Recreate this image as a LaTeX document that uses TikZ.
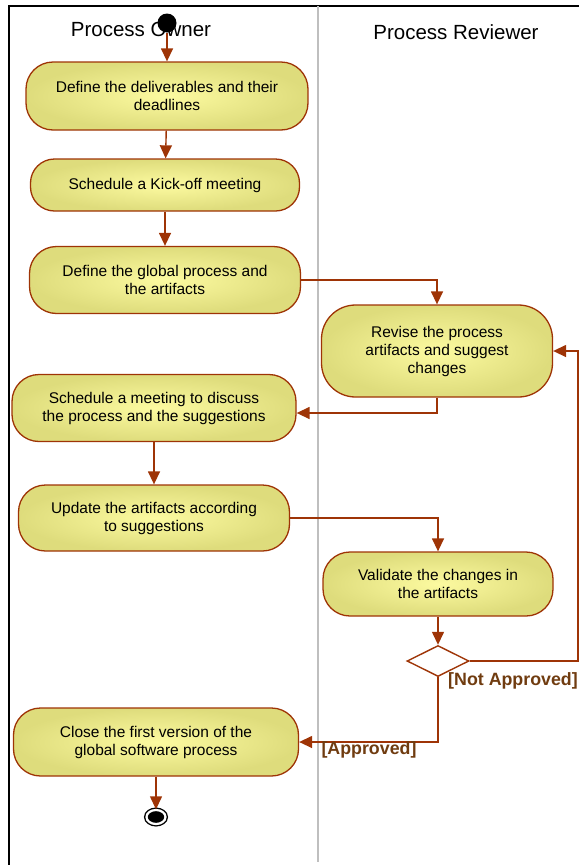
\documentclass[tikz,border=0pt]{standalone}
\usepackage{fontspec}
\setmainfont{Liberation Sans}
\usetikzlibrary{arrows.meta,shapes.geometric}
\definecolor{flowline}{RGB}{158,52,6}
\definecolor{actin}{RGB}{252,250,160}
\definecolor{actout}{RGB}{222,220,124}
\definecolor{guardtxt}{RGB}{112,60,16}
\tikzset{
	activity/.style={rectangle, rounded corners=27pt, draw=flowline, line width=1.3pt,
		inner color=actin, outer color=actout, align=center,
		font=\fontsize{15.5}{18}\selectfont, inner sep=0pt},
	flow/.style={draw=flowline, line width=1.4pt, -{Triangle[length=13pt,width=12pt]}},
	guard/.style={font=\fontsize{17.8}{20}\selectfont\bfseries, text=guardtxt, inner sep=0pt},
	lane/.style={font=\fontsize{20.5}{24}\selectfont, inner sep=0pt}
}
\begin{document}
\begin{tikzpicture}[x=1pt,y=-1pt]
		\useasboundingbox (0,0) rectangle (579,865);
		% swimlanes
		\draw[line width=2pt] (9,865) -- (9,6) -- (579,6);
		\draw[gray!50, line width=1.6pt] (318,6) -- (318,862);
		\node[lane] (owner) at (141,29) {Process Owner};
		\node[lane] (reviewer) at (456,32) {Process Reviewer};
		% activities
		\node[circle, fill=black, minimum size=19pt, inner sep=0pt] (start) at (167,23) {};
		\node[activity, minimum width=282pt, minimum height=68pt] (deliv) at (167,96) {Define the deliverables and their\\deadlines};
		\node[activity, minimum width=269pt, minimum height=52pt, rounded corners=24pt] (kickoff) at (165,185) {Schedule a Kick-off meeting};
		\node[activity, minimum width=271pt, minimum height=67pt] (global) at (165,280) {Define the global process and\\the artifacts};
		\node[activity, minimum width=231pt, minimum height=92pt, rounded corners=34pt] (revise) at (437,351) {Revise the process\\artifacts and suggest\\changes};
		\node[activity, minimum width=284pt, minimum height=67pt] (discuss) at (154,408) {Schedule a meeting to discuss\\the process and the suggestions};
		\node[activity, minimum width=271pt, minimum height=66pt] (update) at (154,518) {Update the artifacts according\\to suggestions};
		\node[activity, minimum width=230pt, minimum height=64pt] (validate) at (438,584) {Validate the changes in\\the artifacts};
		\node[diamond, draw=flowline, line width=1.4pt, fill=white, aspect=2, minimum width=62pt, minimum height=31pt, inner sep=0pt] (check) at (438,661) {};
		\node[activity, minimum width=285pt, minimum height=68pt] (close) at (156,742) {Close the first version of the\\global software process};
		\node[ellipse, fill=black, draw=black, line width=1.4pt, double=white, double distance=2.2pt, minimum width=19pt, minimum height=14pt, inner sep=0pt] (finish) at (156,817) {};
		\coordinate (loop) at (578,661);
		% flows
		\draw[flow] (start) -- (deliv);
		\draw[flow] (deliv) -- (kickoff);
		\draw[flow] (kickoff) -- (global);
		\draw[flow] (global.east) -| (revise.north);
		\draw[flow] (revise.south) |- ([yshift=-5pt]discuss.east);
		\draw[flow] (discuss) -- (update);
		\draw[flow] (update.east) -| (validate.north);
		\draw[flow] (validate) -- (check);
		\draw[flow] (check.east) -- (loop) |- (revise.east);
		\draw[flow] (check.south) |- (close.east);
		\draw[flow] (close) -- (finish);
		\node[guard] (notok) at (513,681) {[Not Approved]};
		\node[guard] (ok) at (369,750) {[Approved]};
	\end{tikzpicture}
\end{document}
